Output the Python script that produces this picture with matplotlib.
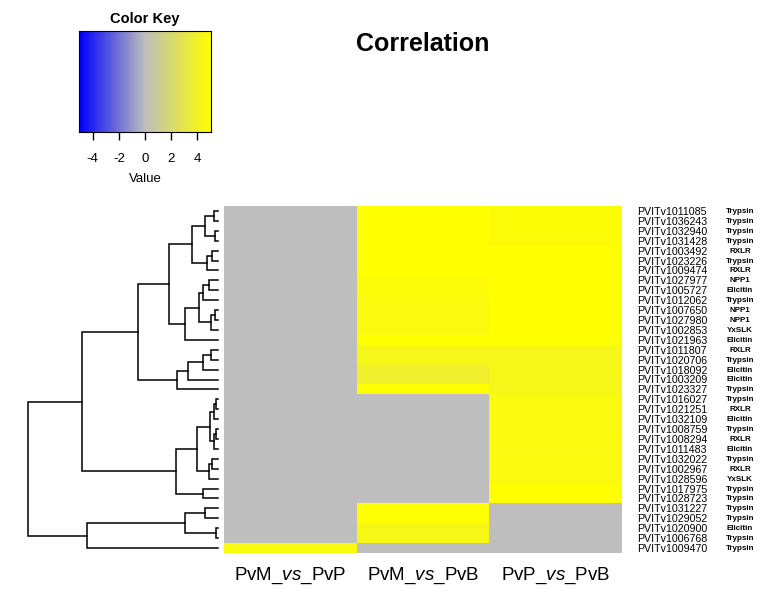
import numpy as np
import matplotlib
matplotlib.use("Agg")
import matplotlib.pyplot as plt
from matplotlib.colors import LinearSegmentedColormap
from matplotlib.transforms import blended_transform_factory

plt.rcParams['font.family'] = ['Liberation Sans', 'DejaVu Sans']
plt.rcParams['mathtext.fontset'] = 'custom'
plt.rcParams['mathtext.rm'] = 'Liberation Sans'
plt.rcParams['mathtext.it'] = 'Liberation Sans:italic'

# data
genes = ['PVITv1011085', 'PVITv1036243', 'PVITv1032940', 'PVITv1031428', 'PVITv1003492',
         'PVITv1023226', 'PVITv1009474', 'PVITv1027977', 'PVITv1005727', 'PVITv1012062',
         'PVITv1007650', 'PVITv1027980', 'PVITv1002853', 'PVITv1021963', 'PVITv1011807',
         'PVITv1020706', 'PVITv1018092', 'PVITv1003209', 'PVITv1023327', 'PVITv1016027',
         'PVITv1021251', 'PVITv1032109', 'PVITv1008759', 'PVITv1008294', 'PVITv1011483',
         'PVITv1032022', 'PVITv1002967', 'PVITv1028596', 'PVITv1017975', 'PVITv1028723',
         'PVITv1031227', 'PVITv1029052', 'PVITv1020900', 'PVITv1006768', 'PVITv1009470']
types = ['Trypsin', 'Trypsin', 'Trypsin', 'Trypsin', 'RXLR', 'Trypsin', 'RXLR', 'NPP1',
         'Elicitin', 'Trypsin', 'NPP1', 'NPP1', 'YxSLK', 'Elicitin', 'RXLR', 'Trypsin',
         'Elicitin', 'Elicitin', 'Trypsin', 'Trypsin', 'RXLR', 'Elicitin', 'Trypsin', 'RXLR',
         'Elicitin', 'Trypsin', 'RXLR', 'YxSLK', 'Trypsin', 'Trypsin', 'Trypsin', 'Trypsin',
         'Elicitin', 'Trypsin', 'Trypsin']
columns = [r'PvM_$\it{vs}$_PvP', r'PvM_$\it{vs}$_PvB', r'PvP_$\it{vs}$_PvB']

nan = np.nan
pvm_vs_pvp = [nan] * 34 + [4.6]
pvm_vs_pvb = [5.0, 5.0, 5.0, 5.0, 5.0, 5.0, 5.0, 4.8, 4.8, 4.6, 4.6, 4.6, 4.6, 5.0, 4.3,
              4.3, 3.8, 3.8, 5.0] + [nan] * 11 + [5.0, 5.0, 4.4, 4.4, nan]
pvp_vs_pvb = [4.8, 4.8, 4.8, 4.8, 5.0, 5.0, 5.0, 5.0, 5.0, 5.0, 5.0, 5.0, 5.0, 5.0, 4.3,
              4.3, 4.4, 4.3, 4.3, 4.6, 4.6, 4.6, 4.6, 4.6, 4.5, 4.6, 4.6, 4.6, 5.0, 5.0] + [nan] * 5

# row dendrogram merges: (child a, child b, height); ids >= 35 are earlier merges
merges = [(0, 1, 4), (2, 3, 3), (35, 36, 13), (4, 5, 6), (38, 6, 11), (37, 39, 26),
          (7, 8, 9), (41, 9, 15), (10, 11, 3), (43, 12, 7), (42, 44, 19), (45, 13, 33),
          (40, 46, 49), (14, 15, 7), (48, 16, 15), (49, 17, 30), (50, 18, 41), (47, 51, 80),
          (19, 20, 1.5), (53, 21, 4), (22, 23, 1.5), (55, 24, 4), (54, 56, 8), (25, 26, 6),
          (58, 27, 9), (57, 59, 21), (28, 29, 15), (60, 61, 42), (52, 62, 136),
          (30, 31, 13), (32, 33, 2), (64, 65, 33), (66, 34, 131), (63, 67, 190)]

W, H = 783, 592
fig = plt.figure(figsize=(W / 100, H / 100), dpi=100)

def box(l, t, r, b):
    return [l / W, 1 - b / H, (r - l) / W, (b - t) / H]

cmap = LinearSegmentedColormap.from_list('bgy', ['blue', '#BEBEBE', 'yellow'], N=256)
cmap.set_bad('#BEBEBE')

# heatmap
ax = fig.add_axes(box(224, 206, 622, 553))
mat = np.ma.masked_invalid(np.array([pvm_vs_pvp, pvm_vs_pvb, pvp_vs_pvb]).T)
ax.pcolormesh(np.arange(4) - 0.5, np.arange(36) - 0.5, mat, cmap=cmap, vmin=-5, vmax=5)
ax.set_xlim(-0.5, 2.5)
ax.set_ylim(34.5, -0.5)
ax.set_xticks([])
ax.set_yticks([])
for s in ax.spines.values():
    s.set_visible(False)

tr = blended_transform_factory(fig.transFigure, ax.transData)
for i, (g, t) in enumerate(zip(genes, types)):
    ax.text(637 / W, i + 0.1, g, transform=tr, fontsize=7.7, va='center', ha='left')
    ax.text(740 / W, i + 0.05, t, transform=tr, fontsize=5.8, fontweight='bold',
            va='center', ha='center')
trx = blended_transform_factory(ax.transData, fig.transFigure)
for j, c in enumerate(columns):
    ax.text(j, 1 - 576 / H, c, transform=trx, fontsize=13.5, ha='center', va='center')

# dendrogram
dax = fig.add_axes(box(28, 206, 218, 553))
pos = {i: float(i) for i in range(len(genes))}
hgt = {i: 0.0 for i in range(len(genes))}
for k, (a, b, h) in enumerate(merges):
    nid = len(genes) + k
    dax.plot([hgt[a], h, h, hgt[b]], [pos[a], pos[a], pos[b], pos[b]],
             color='black', lw=1.1, clip_on=False, solid_joinstyle='miter')
    pos[nid] = (pos[a] + pos[b]) / 2
    hgt[nid] = h
dax.set_xlim(190, 0)
dax.set_ylim(34.5, -0.5)
dax.axis('off')

# color key
kax = fig.add_axes(box(79, 31, 211, 132))
grad = np.linspace(-5, 5, 200).reshape(1, -1)
kax.imshow(grad, cmap=cmap, vmin=-5, vmax=5, aspect='auto', extent=[-5.05, 5.05, 0, 1])
kax.set_xlim(-5.05, 5.05)
kax.set_yticks([])
kax.set_xticks([-4, -2, 0, 2, 4])
kax.set_xticklabels(['-4', '-2', '0', '2', '4'], fontsize=9.5)
kax.tick_params(axis='x', length=6, width=1, pad=9)
kax.set_xlabel('Value', fontsize=9.5, labelpad=6)
kax.set_title('Color Key', fontsize=10.5, fontweight='bold', pad=6)
for s in kax.spines.values():
    s.set_linewidth(0.8)

fig.text(423 / W, 1 - 44 / H, 'Correlation', fontsize=18, fontweight='bold',
         ha='center', va='center')

fig.savefig('out.png', dpi=100)
